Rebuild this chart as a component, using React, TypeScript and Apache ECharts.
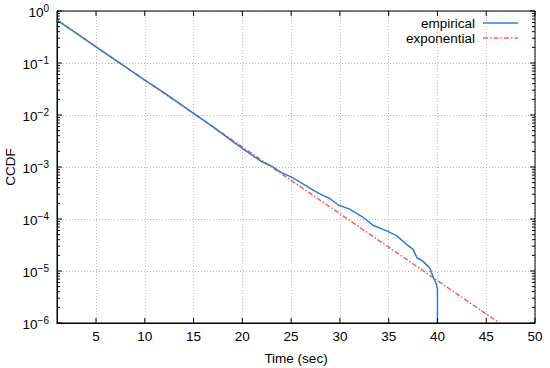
import React, { useEffect, useRef } from "react";
import * as echarts from "echarts";

const xTickValues = [5, 10, 15, 20, 25, 30, 35, 40, 45, 50];
const yTickExponents = [0, -1, -2, -3, -4, -5, -6];
const minorMantissas = [2, 3, 4, 5, 6, 7, 8, 9];

const empiricalX = [
  1, 3, 5, 7, 10, 12, 15, 17, 19, 20, 21, 22, 23, 24, 25, 26, 27.3, 28, 29,
  29.85, 31, 32.4, 33.4, 34.8, 35.8, 36.8, 37.5, 37.9, 38.5, 39.2, 39.6, 39.9,
  40, 40,
];
const empiricalY = [
  0.67, 0.37, 0.205, 0.113, 0.047, 0.0265, 0.0108, 0.0059, 0.0031, 0.00229,
  0.0017, 0.00126, 0.00104, 0.00078, 0.000645, 0.0005, 0.000355, 0.0003,
  0.000245, 0.000186, 0.000155, 0.000107, 0.000076, 0.000059, 0.000048,
  0.000033, 0.000026, 0.000018, 0.0000155, 0.0000115, 0.0000074, 0.0000055,
  0.0000045, 0.000001,
];
const exponentialX = [1, 46.35];
const exponentialY = [0.671, 0.000001];

const X_MIN = 1;
const X_MAX = 50;
const Y_MIN = 1e-6;
const Y_MAX = 1;

const FONT = "Liberation Sans, Arial, Helvetica, sans-serif";
const BLUE = "#2b7bd8";
const RED = "#ff5c5c";

export default function App() {
  const ref = useRef<HTMLDivElement>(null);

  useEffect(() => {
    if (!ref.current) return;
    const chart = echarts.init(ref.current, undefined, { renderer: "svg" });

    const supLabel = (v: number) => {
      const e = Math.round(Math.log10(v));
      const s = e < 0 ? "\u2212" + -e : String(e);
      return `{base|10}{sup|${s}}`;
    };

    const gridLine = { show: true, lineStyle: { color: "#bbb", type: [1, 2], width: 1 } };

    const baseGraphics: any[] = [
      {
        type: "rect",
        shape: { x: 57, y: 11, width: 478, height: 312 },
        style: { fill: "none", stroke: "#000", lineWidth: 1 },
        silent: true,
        z: 100,
      },
      {
        type: "text",
        x: 10,
        y: 167,
        rotation: Math.PI / 2,
        style: { text: "CCDF", fontSize: 13.5, fontFamily: FONT, fill: "#000", textAlign: "center", textVerticalAlign: "middle" },
      },
      {
        type: "text",
        x: 296,
        y: 358,
        style: { text: "Time (sec)", fontSize: 13.5, fontFamily: FONT, fill: "#000", textAlign: "center", textVerticalAlign: "middle" },
      },
      {
        type: "text",
        x: 475,
        y: 23,
        style: { text: "empirical", fontSize: 13.5, fontFamily: FONT, fill: "#000", textAlign: "right", textVerticalAlign: "middle" },
      },
      {
        type: "text",
        x: 475,
        y: 38,
        style: { text: "exponential", fontSize: 13.5, fontFamily: FONT, fill: "#000", textAlign: "right", textVerticalAlign: "middle" },
      },
      {
        type: "line",
        shape: { x1: 483, y1: 23, x2: 518, y2: 23 },
        style: { stroke: BLUE, lineWidth: 1.5 },
      },
      {
        type: "line",
        shape: { x1: 483, y1: 38, x2: 518, y2: 38 },
        style: { stroke: RED, lineWidth: 1.5, lineDash: [5, 2, 1.5, 2] },
      },
    ];

    const option: any = {
      animation: false,
      backgroundColor: "#fff",
      grid: { left: 57, right: 15, top: 11, bottom: 45, containLabel: false },
      xAxis: {
        type: "value",
        min: X_MIN,
        max: X_MAX,
        axisLine: { show: true, onZero: false, lineStyle: { color: "#000", width: 1 } },
        axisTick: { show: false, customValues: xTickValues },
        axisLabel: { customValues: xTickValues, margin: 6, color: "#000", fontSize: 13.5, fontFamily: FONT },
        splitLine: gridLine,
      },
      yAxis: {
        type: "log",
        logBase: 10,
        min: Y_MIN,
        max: Y_MAX,
        axisLine: { show: true, onZero: false, lineStyle: { color: "#000", width: 1 } },
        axisTick: { show: false },
        axisLabel: {
          margin: 8,
          color: "#000",
          fontFamily: FONT,
          formatter: supLabel,
          rich: {
            base: { fontSize: 13.5, lineHeight: 16, verticalAlign: "bottom", fontFamily: FONT, color: "#000" },
            sup: { fontSize: 10, lineHeight: 16, verticalAlign: "top", fontFamily: FONT, color: "#000" },
          },
        },
        splitLine: gridLine,
      },
      series: [
        {
          name: "exponential",
          type: "line",
          showSymbol: false,
          clip: true,
          data: exponentialX.map((x, i) => [x, exponentialY[i]]),
          lineStyle: { color: RED, width: 1.5, type: [5, 2, 1.5, 2] },
          z: 3,
        },
        {
          name: "empirical",
          type: "line",
          showSymbol: false,
          clip: true,
          data: empiricalX.map((x, i) => [x, empiricalY[i]]),
          lineStyle: { color: BLUE, width: 1.5 },
          z: 4,
        },
      ],
      graphic: baseGraphics,
    };

    chart.setOption(option);

    // Inside ticks mirrored on all four sides, placed through the chart's own scales.
    const tickGraphics: any[] = [];
    const tickStyle = { stroke: "#000", lineWidth: 1 };
    const toPx = (p: number[]) => chart.convertToPixel({ gridIndex: 0 }, p) as number[];
    xTickValues.forEach((v) => {
      const pB = toPx([v, Y_MIN]);
      const pT = toPx([v, Y_MAX]);
      tickGraphics.push({ type: "line", silent: true, z: 101, shape: { x1: pB[0], y1: pB[1], x2: pB[0], y2: pB[1] - 5 }, style: tickStyle });
      tickGraphics.push({ type: "line", silent: true, z: 101, shape: { x1: pT[0], y1: pT[1], x2: pT[0], y2: pT[1] + 5 }, style: tickStyle });
    });
    yTickExponents.forEach((e) => {
      const vals: [number, number][] = [[Math.pow(10, e), 5]];
      if (e !== 0) minorMantissas.forEach((m) => vals.push([m * Math.pow(10, e), 3]));
      vals.forEach(([v, len]) => {
        const pL = toPx([X_MIN, v]);
        const pR = toPx([X_MAX, v]);
        tickGraphics.push({ type: "line", silent: true, z: 101, shape: { x1: pL[0], y1: pL[1], x2: pL[0] + len, y2: pL[1] }, style: tickStyle });
        tickGraphics.push({ type: "line", silent: true, z: 101, shape: { x1: pR[0], y1: pR[1], x2: pR[0] - len, y2: pR[1] }, style: tickStyle });
      });
    });

    chart.setOption({ graphic: baseGraphics.concat(tickGraphics) });

    return () => chart.dispose();
  }, []);

  return (
    <div
      ref={ref}
      style={{ position: "fixed", left: 0, top: 0, width: 550, height: 368, background: "#fff" }}
    />
  );
}
